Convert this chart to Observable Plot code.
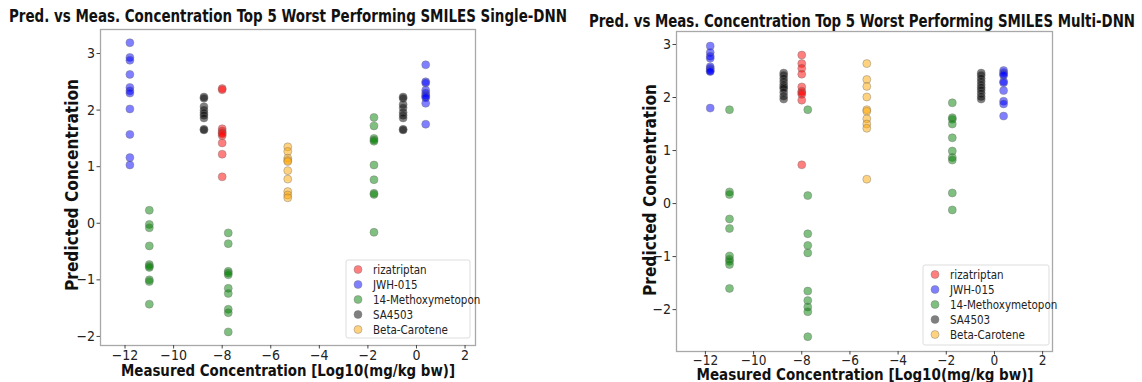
<!DOCTYPE html>
<html><head><meta charset="utf-8">
<script src="https://cdn.jsdelivr.net/npm/d3@7"></script>
<script src="https://cdn.jsdelivr.net/npm/@observablehq/plot@0.6"></script>
<style>
body{margin:0;background:#fff;}
#wrap{position:relative;width:1142px;height:382px;overflow:hidden;}
#wrap > svg{position:absolute;top:0;}
</style></head><body><div id="wrap"></div>
<script>
// ---- data ----
const compounds = ["rizatriptan", "JWH-015", "14-Methoxymetopon", "SA4503", "Beta-Carotene"];
const compoundColors = ["red", "blue", "green", "black", "orange"];
const xTicks = [-12, -10, -8, -6, -4, -2, 0, 2];
const yTicks = [-2, -1, 0, 1, 2, 3];

const clusterCompound = ["JWH-015", "14-Methoxymetopon", "SA4503", "rizatriptan", "14-Methoxymetopon", "Beta-Carotene", "14-Methoxymetopon", "SA4503", "JWH-015"];
const clusterMeasured = [-11.8, -11.0, -8.75, -8.0, -7.75, -5.3, -1.75, -0.55, 0.38];

const singlePredicted = [
  [3.19, 2.93, 2.88, 2.63, 2.40, 2.34, 2.30, 2.02, 1.57, 1.16, 1.03],
  [0.23, -0.02, -0.08, -0.40, -0.73, -0.76, -0.78, -1.00, -1.03, -1.43],
  [2.23, 2.21, 2.06, 2.00, 1.95, 1.91, 1.86, 1.66, 1.65],
  [2.38, 2.36, 1.67, 1.63, 1.60, 1.58, 1.55, 1.42, 1.22, 0.82],
  [-0.17, -0.36, -0.85, -0.88, -0.91, -1.15, -1.24, -1.52, -1.58, -1.92],
  [1.35, 1.27, 1.15, 1.11, 1.09, 0.93, 0.78, 0.56, 0.50, 0.45],
  [1.87, 1.72, 1.50, 1.47, 1.45, 1.03, 0.77, 0.53, 0.51, -0.16],
  [2.23, 2.21, 2.10, 2.04, 1.96, 1.91, 1.86, 1.66, 1.65],
  [2.80, 2.50, 2.48, 2.35, 2.30, 2.26, 2.24, 2.22, 2.12, 1.75]
];
const multiPredicted = [
  [2.97, 2.85, 2.78, 2.74, 2.58, 2.55, 2.52, 2.50, 2.49, 1.80],
  [1.77, 0.22, 0.17, -0.29, -0.47, -0.99, -1.05, -1.09, -1.15, -1.60],
  [2.46, 2.42, 2.36, 2.30, 2.24, 2.20, 2.17, 2.10, 2.03, 1.97],
  [2.80, 2.64, 2.55, 2.44, 2.20, 2.12, 2.09, 2.06, 1.95, 0.73],
  [1.77, 0.15, -0.57, -0.79, -0.93, -1.65, -1.83, -1.95, -2.04, -2.51],
  [2.64, 2.34, 2.21, 2.01, 1.77, 1.74, 1.60, 1.50, 1.42, 0.46],
  [1.90, 1.62, 1.59, 1.50, 1.24, 0.99, 0.87, 0.82, 0.20, -0.12],
  [2.46, 2.42, 2.36, 2.30, 2.24, 2.19, 2.14, 2.08, 2.02, 1.97],
  [2.51, 2.47, 2.44, 2.42, 2.30, 2.28, 2.13, 1.93, 1.88, 1.65]
];

const titles = ["Pred. vs Meas. Concentration Top 5 Worst Performing SMILES Single-DNN",
                "Pred. vs Meas. Concentration Top 5 Worst Performing SMILES Multi-DNN"];
const xLabel = "Measured Concentration [Log10(mg/kg bw)]";
const yLabel = "Predicted Concentration";

// ---- build ----
function rows(pred) {
  const out = [];
  clusterCompound.forEach((c, i) => pred[i].forEach(v => out.push({compound: c, measured: clusterMeasured[i], predicted: v})));
  return out.sort((a, b) => compounds.indexOf(a.compound) - compounds.indexOf(b.compound));
}
const fmt = d => d < 0 ? "\u2212" + Math.abs(d) : String(d);
const FONT = "'DejaVu Sans Condensed','DejaVu Sans',sans-serif";

const panels = [
  {pred: singlePredicted, left: 0, width: 571, m: [29, 96, 37, 100], xd: [-13.01, 2.43], yd: [-2.16, 3.424], xfs: 14, xpad: 1.5},
  {pred: multiPredicted, left: 571, width: 571, m: [31, 90, 31, 105], xd: [-13.2, 2.41], yd: [-2.79, 3.245], xfs: 13.5, xpad: 0.5}
];
const wrap = document.getElementById("wrap");
panels.forEach(p => {
  const svg = Plot.plot({
    width: p.width, height: 382,
    marginTop: p.m[0], marginRight: p.m[1], marginBottom: p.m[2], marginLeft: p.m[3],
    style: {fontFamily: FONT, fontSize: "14px", color: "#222", background: "transparent", overflow: "visible"},
    x: {domain: p.xd},
    y: {domain: p.yd},
    color: {domain: compounds, range: compoundColors},
    marks: [
      Plot.frame({stroke: "#a8a8a8", strokeWidth: 1.3}),
      Plot.axisX({ticks: xTicks, tickFormat: fmt, tickSize: 3.5, tickPadding: p.xpad, fontSize: p.xfs, label: null, stroke: "#444"}),
      Plot.axisY({ticks: yTicks, tickFormat: fmt, tickSize: 3.5, tickPadding: 2, label: null, stroke: "#444"}),
      Plot.dot(rows(p.pred), {x: "measured", y: "predicted", r: 4, fill: "compound", fillOpacity: 0.5,
        stroke: "#777", strokeOpacity: 0.6, strokeWidth: 0.7})
    ]
  });
  svg.style.left = p.left + "px";
  wrap.appendChild(svg);
});

// overlay: titles, axis labels, legends
const ov = d3.select(wrap).append("svg").attr("width", 1142).attr("height", 382)
  .style("left", "0px").style("font-family", FONT);
const txt = [
  {t: titles[0], x: 288, y: 22, len: 558, size: 17},
  {t: titles[1], x: 862, y: 27, len: 546, size: 17},
  {t: xLabel, x: 288, y: 376, len: 334, size: 16},
  {t: xLabel, x: 865, y: 380, len: 337, size: 15}
];
txt.forEach(d => ov.append("text").attr("x", d.x).attr("y", d.y).attr("text-anchor", "middle")
  .attr("font-weight", "bold").attr("font-size", d.size).attr("fill", "#111")
  .attr("textLength", d.len).attr("lengthAdjust", "spacingAndGlyphs").text(d.t));
[{x: 78, y: 185}, {x: 656, y: 190}].forEach(d => ov.append("text")
  .attr("transform", `translate(${d.x},${d.y}) rotate(-90)`).attr("text-anchor", "middle")
  .attr("font-weight", "bold").attr("font-size", 17).attr("fill", "#111")
  .attr("textLength", 212).attr("lengthAdjust", "spacingAndGlyphs").text(yLabel));

const legends = [{x: 346, y: 260, w: 124, h: 78}, {x: 923, y: 265, w: 126, h: 80}];
legends.forEach(L => {
  const g = ov.append("g").attr("transform", `translate(${L.x},${L.y})`);
  g.append("rect").attr("width", L.w).attr("height", L.h).attr("rx", 2)
    .attr("fill", "#fff").attr("fill-opacity", 0.85).attr("stroke", "#ddd");
  compounds.forEach((c, i) => {
    g.append("circle").attr("cx", 12).attr("cy", 9.5 + i * 15).attr("r", 4)
      .attr("fill", compoundColors[i]).attr("fill-opacity", 0.5).attr("stroke", "#777").attr("stroke-opacity", 0.6).attr("stroke-width", 0.7);
    g.append("text").attr("x", 27).attr("y", 9.5 + i * 15).attr("dy", "0.35em")
      .attr("font-size", 11.5).attr("fill", "#222").text(c);
  });
});
</script></body></html>
